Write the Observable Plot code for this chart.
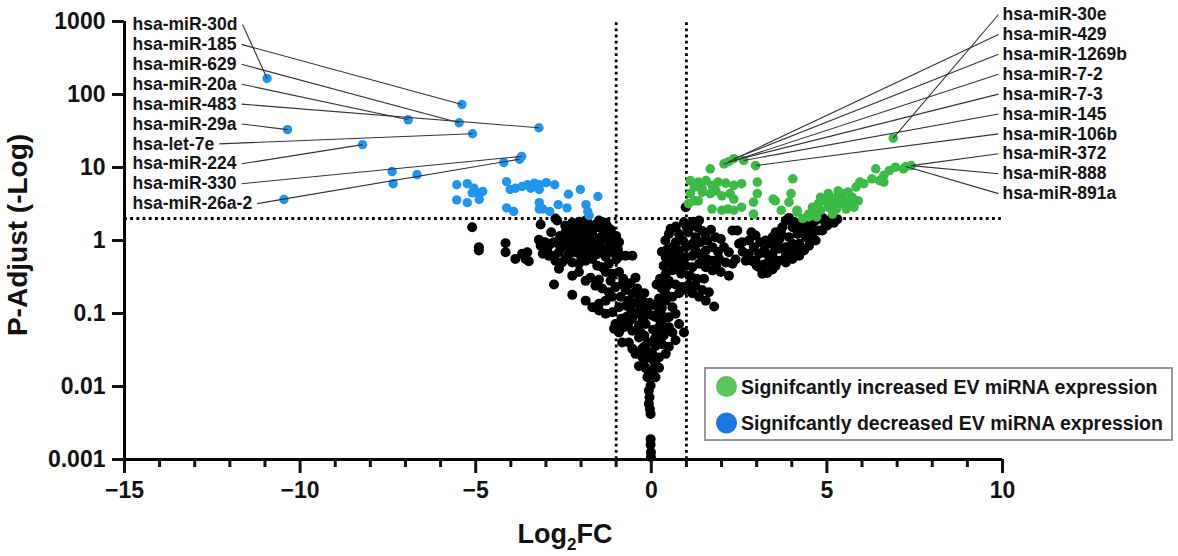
<!DOCTYPE html>
<html><head><meta charset="utf-8">
<script src="https://cdn.jsdelivr.net/npm/d3@7"></script>
<script src="https://cdn.jsdelivr.net/npm/@observablehq/plot@0.6"></script>
<style>
html,body{margin:0;padding:0;background:#fff;}
#chart{width:1178px;height:556px;overflow:hidden;}
svg text{font-family:"Liberation Sans",Arial,Helvetica,sans-serif;}
</style></head><body><div id="chart"></div>
<script>
// ---------- data ----------
const xMajorTicks = [-15, -10, -5, 0, 5, 10];
const xMinorTicks = [-14, -13, -12, -11, -9, -8, -7, -6, -4, -3, -2, -1, 1, 2, 3, 4, 6, 7, 8, 9];
const yTicks = [0.001, 0.01, 0.1, 1, 10, 100, 1000];
const yTickLabels = ["0.001", "0.01", "0.1", "1", "10", "100", "1000"];
const pThreshold = 2;
const fcThresholds = [-1, 1];

// not significant (black) [log2FC, P-adjust]
const nsPoints = [
[-5.10,1.52],[-4.91,0.81],[-4.91,0.73],[-4.15,0.92],[-4.15,0.69],
[-3.87,0.56],[-3.68,0.66],[-3.53,0.69],[-3.49,0.52],[-3.58,0.56],
[-3.15,1.66],[-2.73,2.0],[-2.68,1.88],
[-3.20,1.02],[-3.15,0.85],[-3.03,0.95],[-2.96,0.77],[-2.87,0.90],[-2.77,0.95],[-3.09,0.66],[-2.92,0.62],[-2.77,0.62],[-2.63,0.69],[-2.73,0.53],[-2.54,0.50],[-2.63,0.41],[-2.77,0.25],
[-2.44,1.30],[-2.35,1.45],[-2.20,1.37],[-2.16,1.17],[-2.39,1.11],[-2.25,1.00],[-2.06,0.90],[-2.30,0.81],[-2.16,0.69],[-1.97,0.73],[-1.82,0.81],[-1.87,1.11],[-1.68,1.23],[-1.59,1.66],[-1.78,1.66],[-1.97,1.61],[-1.49,1.88],[-1.35,1.30],[-1.21,1.00],[-1.06,0.90],[-0.92,0.95],[-1.11,0.69],[-0.87,0.62],[-0.73,0.62],[-0.54,0.62],
[-2.10,1.25],[-1.95,1.40],[-1.80,1.35],[-1.62,1.05],[-1.45,1.10],[-1.50,0.85],[-1.70,0.95],[-1.90,0.95],[-2.00,1.10],[-1.35,0.75],[-1.55,0.65],[-2.50,0.95],[-2.55,0.80],[-1.25,1.55],[-1.85,1.90],[-2.05,1.80],
[-2.60,1.15],[-2.45,1.60],[-2.25,1.75],[-1.70,1.45],[-1.40,1.60],[-1.20,1.25],[-1.00,1.15],[-1.30,0.60],[-1.00,0.55],[-1.75,0.70],[-2.35,0.65],[-2.85,1.30],
[-2.15,1.55],[-1.95,1.25],[-1.65,1.45],[-1.45,1.50],[-1.30,1.75],[-1.15,1.40],[-1.05,1.10],[-0.95,0.75],[-1.20,0.80],[-1.45,0.95],[-1.60,0.80],[-1.80,0.60],[-2.00,0.60],[-2.20,0.85],[-2.40,0.95],[-2.60,0.85],
[-2.44,0.56],[-2.25,0.50],[-2.06,0.48],[-1.87,0.53],[-1.68,0.56],[-1.54,0.45],[-1.40,0.43],[-1.21,0.48],[-1.30,0.37],[-1.11,0.35],[-0.92,0.37],[-1.16,0.28],[-1.49,0.29],[-1.73,0.31],[-1.87,0.28],[-2.25,0.33],[-2.06,0.37],
[-1.59,0.24],[-1.40,0.22],[-1.21,0.196],[-1.02,0.23],[-0.83,0.25],[-0.73,0.21],[-0.87,0.17],[-1.11,0.17],[-1.30,0.15],[-1.49,0.136],[-1.68,0.122],[-1.87,0.15],[-2.25,0.18],[-0.45,0.31],[-0.54,0.19],[-0.35,0.18],[-0.26,0.15],
[-0.80,0.30],[-0.60,0.26],[-0.40,0.22],[-0.20,0.19],[-0.65,0.15],[-0.45,0.14],[-0.30,0.12],[-0.05,0.14],[0.10,0.13],[0.30,0.12],[0.40,0.19],[0.30,0.22],[0.15,0.25],[0.45,0.24],
[-1.49,0.11],[-1.30,0.099],[-1.11,0.104],[-0.92,0.122],[-0.73,0.129],[-0.59,0.116],[-0.45,0.099],[-0.26,0.110],[-0.11,0.116],[0.22,0.16],
[-1.02,0.072],[-1.06,0.062],[-0.92,0.055],[-0.78,0.065],[-0.64,0.076],[-0.54,0.058],[-0.35,0.069],[-0.16,0.072],[-0.83,0.040],[-0.64,0.040],[-0.54,0.033],[-0.35,0.047],[-0.26,0.033],[-0.45,0.028],[-0.35,0.019],[-0.16,0.024],[0.03,0.028],[0.12,0.036],[0.17,0.050],[0.22,0.065],[0.22,0.085],[0.12,0.090],[0.03,0.094],[0.22,0.104],
[-0.70,0.090],[-0.55,0.085],[-0.40,0.060],[-0.20,0.050],[-0.10,0.040],[0.05,0.060],[-0.25,0.085],[-0.10,0.030],[0.08,0.022],[-0.25,0.025],
[-0.85,0.085],[-0.15,0.095],[0.30,0.095],[0.40,0.060],[-0.20,0.035],[0.10,0.045],[-0.30,0.055],[0.35,0.050],
[-0.16,0.018],[-0.07,0.0155],[0.03,0.0166],[-0.11,0.0134],[-0.02,0.0103],[-0.07,0.0088],[-0.05,0.0071],[-0.07,0.0058],[-0.04,0.0049],[-0.02,0.0042],[-0.02,0.0019],[-0.02,0.0016],[-0.01,0.00126],[-0.01,0.00108],
[0.98,2.86],[0.93,1.78],[0.50,1.23],[0.79,1.23],[1.36,1.88],[1.31,1.52],
[0.60,0.81],[0.79,0.73],[0.98,0.81],[1.17,0.90],[1.26,1.11],[0.41,0.59],[0.60,0.62],[0.79,0.56],[0.98,0.59],[1.17,0.62],[1.36,0.66],[1.55,0.73],[1.74,0.81],[1.83,1.11],[1.98,1.05],[2.07,0.81],[2.21,0.69],[1.74,0.53],[1.93,0.56],[2.12,0.50],[2.31,0.48],[2.21,0.33],[1.98,0.37],[1.74,0.39],[1.55,0.43],[1.36,0.48],[1.17,0.43],[0.98,0.45],[0.79,0.43],[0.60,0.39],[0.41,0.35],[0.50,0.28],[0.69,0.25],[0.88,0.23],[1.07,0.25],[1.26,0.24],[1.45,0.21],[1.64,0.196],[1.55,0.15],[1.36,0.17],[1.17,0.19],[0.98,0.21],[0.79,0.19],[0.60,0.17],[1.79,0.125],
[0.90,1.00],[1.05,1.30],[1.40,0.95],[1.60,1.00],[1.25,0.75],[0.85,0.35],[1.10,0.33],[1.45,1.35],[1.15,1.60],[0.70,0.95],[0.45,0.75],[1.90,0.70],[0.35,0.45],
[0.40,1.00],[0.30,0.70],[0.55,1.45],[0.70,1.55],[1.00,1.55],[1.20,1.80],[1.55,1.20],[1.70,1.40],[1.45,0.60],[1.60,0.55],[1.85,0.45],[0.70,0.50],[0.55,0.48],[0.35,0.25],[0.25,0.30],[1.30,0.30],[1.50,0.30],
[0.41,0.15],[0.60,0.122],[0.69,0.099],[0.50,0.089],[0.31,0.080],[0.50,0.065],[0.60,0.055],[0.79,0.072],[0.93,0.055],[0.69,0.043],[0.50,0.035],[0.31,0.038],[0.22,0.043],[0.41,0.028],[0.22,0.025],[0.12,0.020],[0.22,0.018],[0.12,0.0134],
[2.31,1.37],[2.45,1.37],[2.50,0.90],[2.59,0.95],[2.78,1.00],[2.97,1.17],[2.92,0.81],[3.07,0.66],[3.21,0.73],[3.35,0.90],[3.45,1.11],[3.54,1.30],[3.73,1.52],[3.83,1.88],[3.92,2.04],[4.02,1.52],[4.16,1.23],[4.30,1.37],[4.40,1.11],[4.49,1.52],[4.59,1.69],[4.68,1.88],[4.87,2.04],[5.06,1.88],[5.16,2.09],[5.30,1.95],[4.78,1.37],[4.68,1.00],[4.49,0.85],[4.35,0.73],[4.21,0.62],[4.02,0.56],[3.83,0.62],[3.64,0.53],[3.54,0.45],[3.45,0.40],[3.30,0.36],[3.16,0.35],[3.07,0.43],[3.21,0.47],[3.35,0.52],[3.83,0.81],[4.02,0.90],[3.64,0.77],[3.45,0.66],[3.54,0.81],[3.92,1.11],[4.21,0.90],[4.59,1.11],[4.87,1.37],[5.01,1.61],[2.88,0.52],[2.69,0.53],[2.78,0.66],[2.97,0.53],[3.45,0.59],[3.83,0.50],[4.11,0.73],
[3.65,1.05],[3.25,1.00],[4.45,1.85],[4.10,1.75],[3.70,1.25],[3.10,0.95],
[2.60,0.70],[2.85,1.30],[3.00,0.45],[3.30,0.65],[3.60,0.95],[3.90,0.70],[4.25,1.55],[4.55,1.30],[4.95,1.75],[5.20,1.75],[3.40,0.50],[2.40,0.55]
];

// significantly decreased (blue)
const downPoints = [
[-10.94,166],[-5.39,73],[-5.47,41],[-6.92,45],[-3.20,35],[-10.36,33],[-5.09,29],[-8.22,20.6],[-3.69,14.2],[-3.75,13.0],[-10.46,3.65],
[-7.38,8.8],[-7.35,6.0],[-6.67,8.0],[-4.20,11.7],
[-5.54,5.8],[-5.24,6.0],[-5.05,5.2],[-4.80,4.7],[-4.90,4.3],[-5.54,3.6],[-5.24,3.3],[-4.90,3.65],[-5.10,4.5],
[-4.12,6.4],[-4.02,5.0],[-3.87,5.2],[-3.68,5.5],[-3.53,5.8],[-3.33,6.1],[-3.19,5.8],[-2.99,6.2],[-2.75,5.8],[-3.19,5.0],[-3.43,5.2],[-2.36,4.3],[-2.02,5.0],[-1.52,4.0],
[-4.12,2.8],[-3.92,2.5],[-3.19,3.3],[-3.09,2.7],[-2.65,3.1],[-2.40,2.8],[-1.86,3.1],[-1.81,2.5],[-1.77,2.2],[-3.19,2.7],[-2.89,2.5]
];

// significantly increased (green)
const upPoints = [
[2.07,11.2],[2.35,13.2],[2.63,12.5],[2.97,10.6],[1.68,9.6],[2.20,12.0],
[1.11,6.6],[1.34,6.3],[1.23,5.4],[1.45,5.1],[1.56,6.6],[1.73,5.7],[1.90,6.3],[2.12,6.1],[2.35,5.7],[2.57,6.0],
[1.11,4.4],[1.23,3.5],[1.45,4.6],[1.68,4.4],[1.84,4.8],[2.01,4.1],[2.24,4.4],[2.35,3.7],[1.06,3.2],[1.34,3.5],
[1.73,2.7],[2.01,2.6],[2.18,2.7],[2.35,2.6],[2.57,2.86],[2.91,3.35],[3.02,6.3],[3.02,4.4],[3.53,3.5],[4.03,7.0],[3.98,4.4],[3.70,2.6],[4.15,2.6],[4.48,2.1],[2.91,2.3],
[3.47,3.7],[3.92,3.35],[4.15,2.45],[4.31,2.0],[4.48,2.3],[4.59,2.86],[4.76,3.2],[4.82,3.9],[4.93,3.5],[5.04,4.4],[5.16,3.5],[5.27,3.9],[5.32,4.8],[5.44,4.4],[5.49,3.5],[5.60,4.6],[5.72,3.9],[5.66,3.2],[5.77,2.86],[5.55,2.7],[5.27,2.7],[5.04,2.86],[4.82,2.6],[4.65,2.45],
[5.83,5.4],[5.94,6.3],[6.05,6.0],[6.28,7.0],[6.39,9.6],[6.50,6.6],[6.62,7.8],[6.78,9.1],[6.95,10.1],[6.62,6.3],[5.89,3.5],[5.38,3.2],[5.16,2.3],[4.71,2.1],
[6.89,25.2],[7.40,10.6],[7.18,9.6],[7.25,10.3]
];

// labelled miRNAs
const leftLabels = ["hsa-miR-30d","hsa-miR-185","hsa-miR-629","hsa-miR-20a","hsa-miR-483","hsa-miR-29a","hsa-let-7e","hsa-miR-224","hsa-miR-330","hsa-miR-26a-2"];
const leftFC = [-10.94,-5.39,-5.47,-6.92,-3.20,-10.36,-5.09,-8.22,-3.69,-3.75];
const leftP  = [166,73,41,45,35,33,29,20.6,14.2,13.0];
const rightLabels = ["hsa-miR-30e","hsa-miR-429","hsa-miR-1269b","hsa-miR-7-2","hsa-miR-7-3","hsa-miR-145","hsa-miR-106b","hsa-miR-372","hsa-miR-888","hsa-miR-891a"];
const rightFC = [6.89,2.20,2.35,2.07,2.35,2.63,2.97,7.40,7.40,7.25];
const rightP  = [25.2,12.0,13.2,11.2,12.5,12.5,10.6,10.6,10.6,10.3];

const legendItems = ["Signifcantly increased EV miRNA expression", "Signifcantly decreased EV miRNA expression"];
const xTitle = ["Log", "2", "FC"];
const yTitle = "P-Adjust (-Log)";

// ---------- layout / style ----------
const W = 1178, H = 556, ML = 124, MR = 176, MT = 21, MB = 97;
const FONT = '"Liberation Sans", Arial, Helvetica, sans-serif';
const BLUE = "#1f95ee", GREEN = "#3cba46";
const LEG_BLUE = "#1a78e2", LEG_GREEN = "#5ac55a";
const xs = d3.scaleLinear([-15, 10], [ML, W - MR]);
const ys = d3.scaleLog([0.001, 1000], [H - MB, MT]);
const LABEL_SIZE = 17.5;
const ROW = 19.9;
const ctx = document.createElement("canvas").getContext("2d");
ctx.font = `bold ${LABEL_SIZE}px ${FONT}`;

const leftStartPx = 132;
const leftRows = leftLabels.map((t, i) => ({
  text: t,
  x: xs.invert(leftStartPx),
  y: ys.invert(24 + ROW * i),
  x1: xs.invert(leftStartPx + ctx.measureText(t).width + 5),
  x2: leftFC[i], y2: leftP[i]
}));
const rightStartPx = 1002;
const rightRows = rightLabels.map((t, i) => ({
  text: t,
  x: xs.invert(rightStartPx),
  y: ys.invert(14 + ROW * i),
  x1: xs.invert(rightStartPx - 4),
  x2: rightFC[i], y2: rightP[i]
}));

const dotted = {stroke: "black", strokeWidth: 2.8, strokeDasharray: "2.8,3.4"};
const plot = Plot.plot({
  width: W, height: H,
  marginLeft: ML, marginRight: MR, marginTop: MT, marginBottom: MB,
  style: {fontFamily: FONT, background: "white", overflow: "visible", color: "#111"},
  x: {domain: [-15, 10]},
  y: {type: "log", domain: [0.001, 1000]},
  marks: [
    Plot.ruleY([pThreshold], {x1: -15, x2: 10, ...dotted}),
    Plot.ruleX(fcThresholds, {y1: 0.001, y2: 1000, ...dotted}),
    Plot.dot(nsPoints, {x: d => d[0], y: d => d[1], r: 5, fill: "black"}),
    Plot.dot(downPoints, {x: d => d[0], y: d => d[1], r: 4.7, fill: BLUE}),
    Plot.dot(upPoints, {x: d => d[0], y: d => d[1], r: 4.8, fill: GREEN}),
    Plot.link(leftRows, {x1: "x1", y1: "y", x2: "x2", y2: "y2", stroke: "#333", strokeWidth: 1.1}),
    Plot.link(rightRows, {x1: "x1", y1: "y", x2: "x2", y2: "y2", stroke: "#333", strokeWidth: 1.1}),
    Plot.text(leftRows, {x: "x", y: "y", text: "text", textAnchor: "start", fontSize: LABEL_SIZE, fontWeight: "bold", fill: "#141414"}),
    Plot.text(rightRows, {x: "x", y: "y", text: "text", textAnchor: "start", fontSize: LABEL_SIZE, fontWeight: "bold", fill: "#141414"}),
    Plot.ruleX([-15], {y1: 0.001, y2: 1000, stroke: "black", strokeWidth: 3}),
    Plot.ruleY([0.001], {x1: -15, x2: 10, stroke: "black", strokeWidth: 3}),
    Plot.axisY({ticks: yTicks, tickFormat: d => yTickLabels[yTicks.indexOf(d)], tickSize: 12, tickPadding: 7, fontSize: 23, fontWeight: "bold", strokeWidth: 3, label: null}),
    Plot.axisX({ticks: xMajorTicks, tickSize: 14, tickPadding: 8, fontSize: 23, fontWeight: "bold", strokeWidth: 3, label: null}),
    Plot.axisX({ticks: xMinorTicks, tickSize: 8, tickFormat: () => "", strokeWidth: 3, label: null})
  ]
});
document.getElementById("chart").appendChild(plot);

// axis titles
const svg = d3.select(plot);
svg.append("text")
  .attr("transform", "translate(27,235) rotate(-90)")
  .attr("text-anchor", "middle")
  .attr("font-size", 28).attr("font-weight", "bold").attr("fill", "#111")
  .text(yTitle);
const xt = svg.append("text")
  .attr("x", 565).attr("y", 543)
  .attr("text-anchor", "middle")
  .attr("font-size", 27).attr("font-weight", "bold").attr("fill", "#111");
xt.append("tspan").text(xTitle[0]);
xt.append("tspan").attr("font-size", 17).attr("dy", 7).text(xTitle[1]);
xt.append("tspan").attr("dy", -7).text(xTitle[2]);

// legend
const lg = svg.append("g").attr("text-anchor", "start");
lg.append("rect").attr("x", 705).attr("y", 368).attr("width", 467).attr("height", 72)
  .attr("fill", "white").attr("stroke", "#777").attr("stroke-width", 1.5);
[[LEG_GREEN, 386.5], [LEG_BLUE, 423]].forEach(([c, cy], i) => {
  lg.append("circle").attr("cx", 726.5).attr("cy", cy).attr("r", 10.5).attr("fill", c);
  lg.append("text").attr("x", 741).attr("y", cy).attr("dy", "0.36em")
    .attr("text-anchor", "start")
    .attr("font-size", 19.5).attr("font-weight", "bold").attr("fill", "#141414")
    .text(legendItems[i]);
});
</script>
</body></html>
